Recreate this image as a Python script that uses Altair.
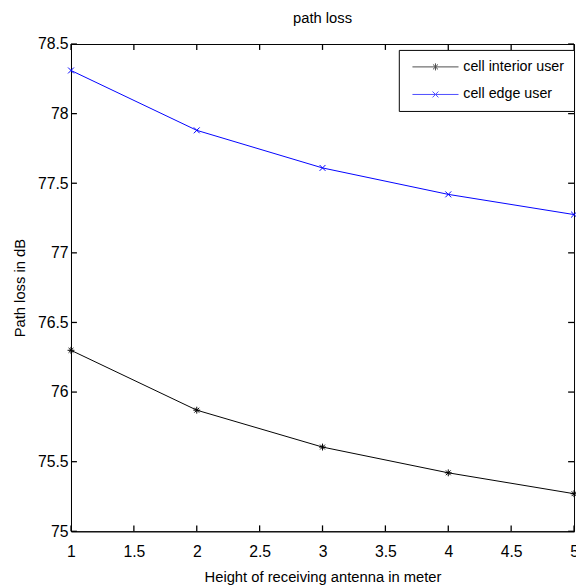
import altair as alt
import pandas as pd

# ---- data ----
heights = [1, 2, 3, 4, 5]
interior = [76.30, 75.87, 75.605, 75.42, 75.27]
edge = [78.31, 77.88, 77.61, 77.42, 77.275]
series = ["cell interior user", "cell edge user"]
colors = ["#000000", "#0000ff"]
x_ticks = [1, 1.5, 2, 2.5, 3, 3.5, 4, 4.5, 5]
y_ticks = [75, 75.5, 76, 76.5, 77, 77.5, 78, 78.5]
x_dom = [1, 5]
y_dom = [75, 78.5]

W, H = 511, 495
FONT = "Liberation Sans"

df = pd.DataFrame({
    "h": heights * 2,
    "loss": interior + edge,
    "series": [series[0]] * len(heights) + [series[1]] * len(heights),
})
xt = pd.DataFrame({"xt": x_ticks})
yt = pd.DataFrame({"yt": y_ticks})

AST = "M-1,0L1,0M0,-1L0,1M-0.7,-0.7L0.7,0.7M-0.7,0.7L0.7,-0.7"
XM = "M-1,-1L1,1M-1,1L1,-1"
LEG_AST = "M-7.8,0L7.8,0M0,-1.2L0,1.2M-0.85,-0.85L0.85,0.85M-0.85,0.85L0.85,-0.85"
LEG_X = "M-7.8,0L7.8,0M-1,-1L1,1M-1,1L1,-1"
TICK_SIZE = 144  # custom path unit = sqrt(size)/2 = 6 px

xs = alt.Scale(domain=x_dom, nice=False, zero=False)
ys = alt.Scale(domain=y_dom, nice=False, zero=False)

base = alt.Chart(df)

x_main = alt.X("h:Q", scale=xs, axis=alt.Axis(
    values=x_ticks, format="~g", ticks=False, grid=False, domain=True,
    domainColor="black", title="Height of receiving antenna in meter",
    labelPadding=13, titlePadding=10, labelFont=FONT, labelFontSize=16,
    labelColor="black", titleFont=FONT, titleFontSize=15,
    titleFontWeight="normal", titleColor="black", labelFlush=False))
y_main = alt.Y("loss:Q", scale=ys, axis=alt.Axis(
    values=y_ticks, format="~g", ticks=False, grid=False, domain=True,
    domainColor="black", title="Path loss in dB", labelPadding=3,
    titlePadding=10, labelFont=FONT, labelFontSize=16, labelColor="black",
    titleFont=FONT, titleFontSize=15, titleFontWeight="normal",
    titleColor="black", labelFlush=False))

layers = []
for name, col, shp, sz in [(series[0], colors[0], AST, 49), (series[1], colors[1], XM, 36)]:
    sub = base.transform_filter(alt.datum.series == name)
    layers.append(sub.mark_line(strokeWidth=1, color=col).encode(x=x_main, y=y_main))
    layers.append(sub.mark_point(shape=shp, size=sz, filled=False, strokeWidth=1,
                                 opacity=1, color=col).encode(
        x=alt.X("h:Q", scale=xs), y=alt.Y("loss:Q", scale=ys)))

# inward ticks on all four sides, drawn as short stroked paths at the tick values
def tick_marks(data, field, other_val, path):
    if field == "xt":
        enc = dict(x=alt.X("xt:Q", scale=xs), y=alt.Y(datum=other_val, scale=ys))
    else:
        enc = dict(y=alt.Y("yt:Q", scale=ys), x=alt.X(datum=other_val, scale=xs))
    return alt.Chart(data).mark_point(shape=path, size=TICK_SIZE, filled=False,
                                      color="black", strokeWidth=1.3,
                                      opacity=1).encode(**enc)

layers += [
    tick_marks(xt, "xt", y_dom[0], "M0,0L0,-1"),
    tick_marks(xt, "xt", y_dom[1], "M0,0L0,1"),
    tick_marks(yt, "yt", x_dom[0], "M0,0L1,0"),
    tick_marks(yt, "yt", x_dom[1], "M0,0L-1,0"),
]

def leg():
    return alt.Legend(title=None, orient="none", legendX=333, legendY=6,
                      strokeColor="black", fillColor="white", padding=10,
                      symbolSize=36, symbolStrokeWidth=1, symbolOffset=20,
                      labelOffset=21, labelFont=FONT, labelFontSize=14.5,
                      labelColor="black", rowPadding=13, cornerRadius=0)

legend_layer = base.transform_filter("false").mark_point(
    filled=False, strokeWidth=1).encode(
    x=alt.X("h:Q", scale=xs),
    y=alt.Y("loss:Q", scale=ys),
    color=alt.Color("series:N", scale=alt.Scale(domain=series, range=colors),
                    legend=leg()),
    shape=alt.Shape("series:N", scale=alt.Scale(domain=series, range=[LEG_AST, LEG_X]),
                    legend=leg()),
)
layers.append(legend_layer)

chart = alt.layer(*layers).properties(
    width=W, height=H,
    title=alt.TitleParams("path loss", font=FONT, fontSize=15, fontWeight="normal",
                          color="black", offset=10, anchor="middle"),
    autosize=alt.AutoSizeParams(type="none"),
    padding={"left": 64, "top": 32, "right": 2, "bottom": 52},
    background="white",
).configure_view(stroke="black", strokeWidth=1)

chart.save("out.html", embed_options={"renderer": "svg", "actions": False})
